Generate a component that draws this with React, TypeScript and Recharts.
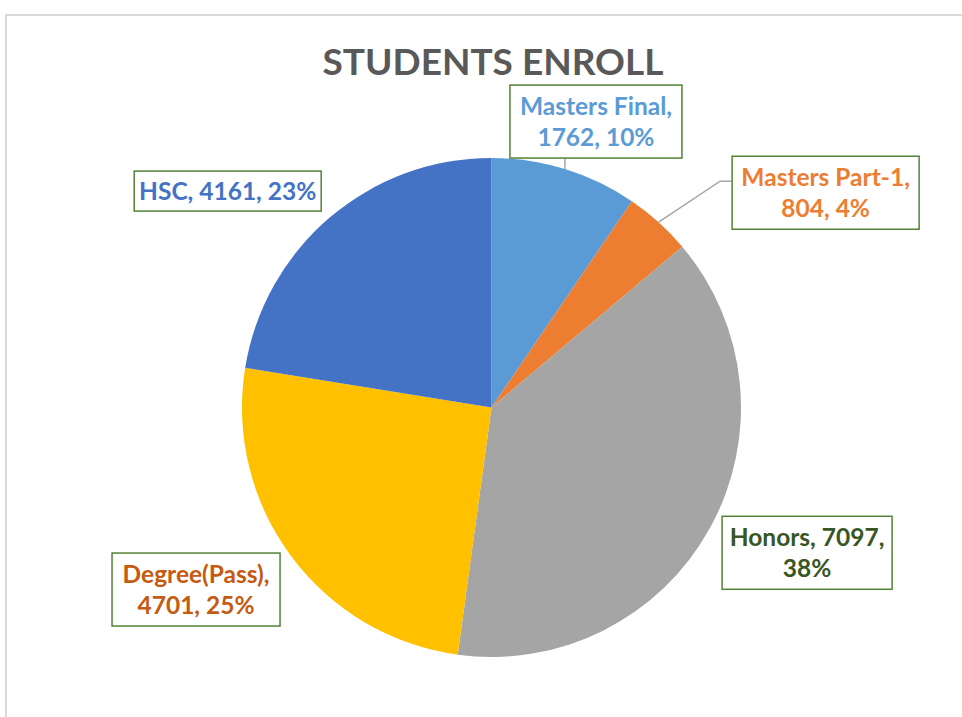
import { PieChart, Pie, Cell } from 'recharts';

const categories = ['Masters Final', 'Masters Part-1', 'Honors', 'Degree(Pass)', 'HSC'];
const enrolled = [1762, 804, 7097, 4701, 4161];
const percentLabels = [10, 4, 38, 25, 23];
// how many comma-separated parts go on the first line of each label
const firstLineParts = [1, 1, 2, 1, 3];

const sliceColors = ['#5B9BD5', '#ED7D31', '#A5A5A5', '#FFC000', '#4472C4'];
const labelColors = ['#5B9BD5', '#ED7D31', '#375623', '#C55A11', '#4472C4'];

// label box placement, relative to the slice's outer edge at its mid angle
const labelOffsets = [
  { dx: 31, dy: -47.5, w: 172, h: 73, leader: 'vertical' },
  { dx: 167, dy: -29.5, w: 187, h: 73, leader: 'elbow' },
  { dx: 97, dy: 25, w: 170, h: 73, leader: '' },
  { dx: -95, dy: 33.5, w: 168, h: 73, leader: '' },
  { dx: -102, dy: -26.5, w: 187, h: 40, leader: '' },
];

const data = categories.map((name, i) => ({ name, value: enrolled[i] }));

const FONT = 'Lato, "Open Sans", sans-serif';
const RAD = Math.PI / 180;

const renderLabel = (props: any) => {
  const { cx, cy, midAngle, outerRadius, index, value, name } = props;
  const ex = cx + outerRadius * Math.cos(-midAngle * RAD);
  const ey = cy + outerRadius * Math.sin(-midAngle * RAD);
  const o = labelOffsets[index];
  const bx = ex + o.dx;
  const by = ey + o.dy;
  const left = bx - o.w / 2;
  const top = by - o.h / 2;

  const parts = [name, String(value), `${percentLabels[index]}%`];
  const n = firstLineParts[index];
  const lines = [parts.slice(0, n).join(', ') + (n < 3 ? ',' : '')];
  if (n < 3) lines.push(parts.slice(n).join(', '));

  const lineGap = 31;
  const firstBaseline = by + 9 - ((lines.length - 1) * lineGap) / 2;

  let leader = null;
  if (o.leader === 'vertical') {
    leader = <line x1={ex} y1={ey} x2={ex} y2={top} stroke="#A6A6A6" strokeWidth={1.5} />;
  } else if (o.leader === 'elbow') {
    const ly = by - 11.5;
    leader = (
      <polyline
        points={`${ex},${ey} ${left - 12},${ly} ${left},${ly}`}
        fill="none"
        stroke="#A6A6A6"
        strokeWidth={1.5}
      />
    );
  }

  return (
    <g key={`lbl-${index}`}>
      {leader}
      <rect x={left} y={top} width={o.w} height={o.h} fill="#fff" stroke="#548235" strokeWidth={1.5} />
      {lines.map((t, k) => (
        <text
          key={k}
          x={bx}
          y={firstBaseline + k * lineGap}
          textAnchor="middle"
          fontFamily={FONT}
          fontWeight={700}
          fontSize={24.5}
          fill={labelColors[index]}
        >
          {t}
        </text>
      ))}
    </g>
  );
};

export default function App() {
  return (
    <div
      style={{
        position: 'absolute',
        left: 0,
        top: 0,
        width: 962,
        height: 717,
        overflow: 'hidden',
        background: '#fff',
      }}
    >
      <style>{`.recharts-pie-sectors { filter: drop-shadow(1px 4px 4px rgba(0,0,0,0.22)); }`}</style>
      <div
        style={{
          position: 'absolute',
          left: 5,
          top: 14,
          width: 1100,
          height: 900,
          borderLeft: '2px solid #D9D9D9',
          borderTop: '2px solid #D9D9D9',
        }}
      />
      <div style={{ position: 'absolute', left: 0, top: 0 }}>
        <PieChart width={962} height={717} margin={{ top: 0, right: 0, bottom: 0, left: 0 }}>
          <Pie
            data={data}
            dataKey="value"
            nameKey="name"
            cx={491.5}
            cy={407.5}
            outerRadius={249.5}
            startAngle={90}
            endAngle={-270}
            stroke="none"
            label={renderLabel}
            labelLine={false}
            isAnimationActive={false}
          >
            {data.map((d, i) => (
              <Cell key={d.name} fill={sliceColors[i]} />
            ))}
          </Pie>
        </PieChart>
      </div>
      <svg
        width={962}
        height={717}
        style={{ position: 'absolute', left: 0, top: 0, pointerEvents: 'none' }}
      >
        <text
          x={493}
          y={75}
          textAnchor="middle"
          fontFamily={FONT}
          fontWeight={700}
          fontSize={37}
          fill="#595959"
        >
          STUDENTS ENROLL
        </text>
      </svg>
    </div>
  );
}
